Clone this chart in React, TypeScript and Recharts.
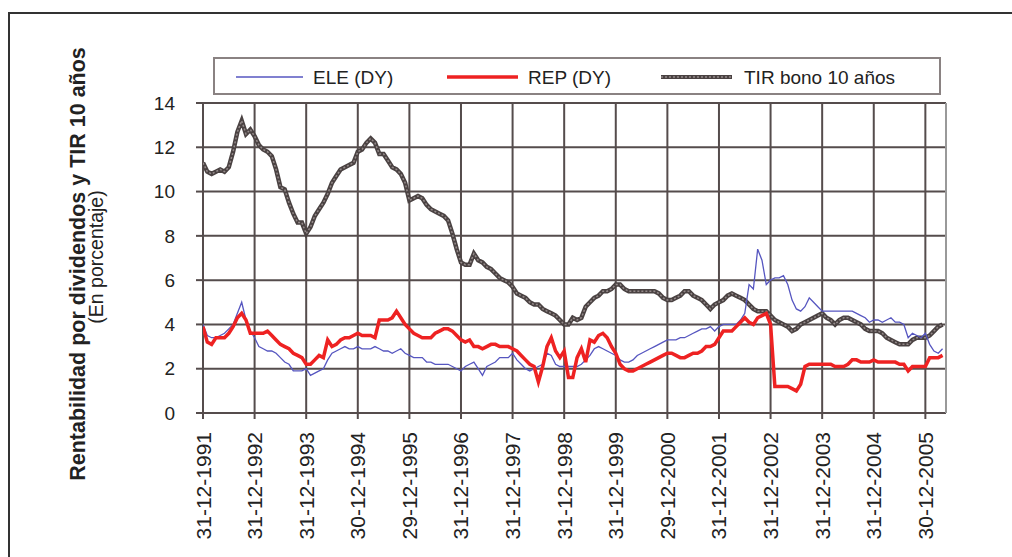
import { LineChart, Line, XAxis, YAxis, CartesianGrid, ReferenceLine } from 'recharts';

// fechas de corte (una por año, eje X)
const tickLabels = [
  '31-12-1991', '31-12-1992', '31-12-1993', '30-12-1994', '29-12-1995',
  '31-12-1996', '31-12-1997', '31-12-1998', '31-12-1999', '29-12-2000',
  '31-12-2001', '31-12-2002', '31-12-2003', '31-12-2004', '30-12-2005',
];
const xTicks = tickLabels.map((_, i) => i);
const yTicks = [0, 2, 4, 6, 8, 10, 12, 14];

// valores mensuales desde dic-1991 (filas = años)
const ele = [
  4.0, 3.5, 3.4, 3.4, 3.5, 3.6, 3.8, 4.0, 4.5, 5.0, 4.2, 3.7,
  3.4, 3.0, 2.9, 2.8, 2.8, 2.7, 2.5, 2.3, 2.2, 1.9, 1.9, 1.9,
  2.0, 1.7, 1.8, 1.9, 2.0, 2.4, 2.7, 2.8, 2.9, 3.0, 2.9, 2.9,
  3.0, 2.9, 2.9, 2.9, 3.0, 2.9, 2.8, 2.8, 2.7, 2.8, 2.9, 2.7,
  2.6, 2.5, 2.5, 2.5, 2.3, 2.3, 2.2, 2.2, 2.2, 2.2, 2.1, 2.0,
  1.9, 2.1, 2.2, 2.3, 2.0, 1.7, 2.1, 2.2, 2.3, 2.5, 2.5, 2.5,
  2.7, 2.4, 2.2, 2.0, 1.9, 2.0, 2.1, 2.2, 2.7, 2.6, 2.2, 2.1,
  2.1, 2.1, 2.1, 2.1, 2.2, 2.4, 2.6, 2.9, 3.0, 2.9, 2.8, 2.7,
  2.6, 2.4, 2.3, 2.3, 2.4, 2.6, 2.7, 2.8, 2.9, 3.0, 3.1, 3.2,
  3.3, 3.3, 3.3, 3.4, 3.4, 3.5, 3.6, 3.7, 3.8, 3.8, 3.9, 3.7,
  3.9, 4.0, 4.0, 4.0, 4.0, 4.2, 4.5, 5.8, 5.6, 7.4, 6.9, 5.8,
  6.0, 6.1, 6.1, 6.2, 5.8, 5.1, 4.7, 4.6, 4.8, 5.2, 5.0, 4.8,
  4.6, 4.6, 4.6, 4.6, 4.6, 4.6, 4.6, 4.6, 4.5, 4.4, 4.3, 4.1,
  4.2, 4.2, 4.1, 4.2, 4.3, 4.1, 4.1, 4.0, 3.4, 3.6, 3.5, 3.4,
  3.6, 3.1, 2.8, 2.7, 2.9,
];

const rep = [
  3.9, 3.2, 3.1, 3.4, 3.4, 3.4, 3.6, 3.9, 4.3, 4.5, 4.2, 3.6,
  3.6, 3.6, 3.6, 3.7, 3.5, 3.3, 3.1, 3.0, 2.9, 2.7, 2.6, 2.5,
  2.2, 2.2, 2.4, 2.6, 2.5, 3.3, 3.0, 3.1, 3.3, 3.4, 3.4, 3.5,
  3.6, 3.5, 3.5, 3.5, 3.4, 4.2, 4.2, 4.2, 4.3, 4.6, 4.3, 4.0,
  3.8, 3.6, 3.5, 3.4, 3.4, 3.4, 3.6, 3.7, 3.8, 3.8, 3.7, 3.5,
  3.3, 3.2, 3.3, 3.0, 3.0, 2.9, 3.0, 3.1, 3.1, 3.0, 3.0, 3.0,
  2.9, 2.8, 2.6, 2.4, 2.2, 2.1, 1.4, 2.1, 3.0, 3.4, 2.8, 2.5,
  2.8, 1.6, 1.6, 2.5, 2.9, 2.3, 3.3, 3.2, 3.5, 3.6, 3.4, 3.0,
  2.7, 2.2, 2.0, 1.9, 1.9, 2.0, 2.1, 2.2, 2.3, 2.4, 2.5, 2.6,
  2.7, 2.7, 2.6, 2.5, 2.5, 2.6, 2.7, 2.7, 2.8, 3.0, 3.0, 3.1,
  3.4, 3.7, 3.7, 3.7, 3.9, 4.1, 4.3, 4.1, 4.0, 4.3, 4.4, 4.5,
  4.0, 1.2, 1.2, 1.2, 1.2, 1.1, 1.0, 1.3, 2.1, 2.2, 2.2, 2.2,
  2.2, 2.2, 2.2, 2.1, 2.1, 2.1, 2.2, 2.4, 2.4, 2.3, 2.3, 2.3,
  2.4, 2.3, 2.3, 2.3, 2.3, 2.3, 2.2, 2.2, 1.9, 2.1, 2.1, 2.1,
  2.1, 2.5, 2.5, 2.5, 2.6,
];

const tir = [
  11.3, 10.9, 10.8, 10.9, 11.0, 10.9, 11.1, 11.8, 12.7, 13.2, 12.6, 12.8,
  12.5, 12.1, 11.9, 11.8, 11.6, 11.0, 10.2, 10.1, 9.5, 9.0, 8.6, 8.6,
  8.1, 8.4, 8.9, 9.2, 9.5, 9.9, 10.4, 10.7, 11.0, 11.1, 11.2, 11.3,
  11.8, 11.9, 12.2, 12.4, 12.2, 11.7, 11.7, 11.4, 11.1, 11.0, 10.8, 10.4,
  9.6, 9.7, 9.8, 9.7, 9.4, 9.2, 9.1, 9.0, 8.9, 8.7, 8.1, 7.4,
  6.8, 6.7, 6.7, 7.2, 6.9, 6.8, 6.6, 6.5, 6.3, 6.1, 6.0, 5.9,
  5.7, 5.4, 5.3, 5.2, 5.0, 4.9, 4.9, 4.7, 4.6, 4.5, 4.4, 4.2,
  4.0, 4.0, 4.3, 4.2, 4.3, 4.8, 5.0, 5.2, 5.3, 5.5, 5.5, 5.6,
  5.8, 5.8, 5.6, 5.5, 5.5, 5.5, 5.5, 5.5, 5.5, 5.5, 5.4, 5.2,
  5.1, 5.1, 5.2, 5.3, 5.5, 5.5, 5.3, 5.2, 5.1, 4.9, 4.7, 4.9,
  5.0, 5.1, 5.3, 5.4, 5.3, 5.2, 5.1, 4.9, 4.7, 4.6, 4.6, 4.6,
  4.4, 4.2, 4.1, 4.0, 3.9, 3.7, 3.8, 4.0, 4.1, 4.2, 4.3, 4.4,
  4.5, 4.3, 4.2, 4.0, 4.2, 4.3, 4.3, 4.2, 4.1, 4.0, 3.8, 3.7,
  3.7, 3.7, 3.6, 3.4, 3.3, 3.2, 3.1, 3.1, 3.1, 3.3, 3.4, 3.4,
  3.4, 3.5, 3.7, 3.9, 4.0,
];

const data = tir.map((v, i) => ({ t: i / 12, ele: ele[i], rep: rep[i], tir: v }));

const FONT = '"Liberation Sans", Arial, sans-serif';
const GRID = '#554c4c';
const BLUE = '#5656c0';
const RED = '#ee2222';
const GRAY = '#4a4242';
const GRAY_LIGHT = '#948a8a';

const DateTick = ({ x, y, payload }: any) => (
  <g transform={`translate(${x},${y})`}>
    <text
      transform="rotate(-90)"
      textAnchor="end"
      dy={7.5}
      fontSize={21}
      fontFamily={FONT}
      fill="#222"
    >
      {tickLabels[payload.value]}
    </text>
  </g>
);

const LegendBox = () => (
  <div
    style={{
      position: 'absolute',
      left: 213,
      top: 57,
      width: 728,
      height: 38,
      border: '2px solid #8a8282',
      boxSizing: 'border-box',
      background: '#fff',
    }}
  >
    <svg width={724} height={34} style={{ display: 'block' }}>
      <g fontFamily={FONT} fontSize={19} fill="#222">
        <line x1={21} x2={88} y1={18} y2={18} stroke={BLUE} strokeWidth={1.5} />
        <text x={98} y={25}>ELE (DY)</text>
        <line x1={232} x2={303} y1={18} y2={18} stroke={RED} strokeWidth={3.5} />
        <text x={313} y={25}>REP (DY)</text>
        <line x1={446} x2={517} y1={18} y2={18} stroke={GRAY} strokeWidth={4} />
        <line x1={446} x2={517} y1={18} y2={18} stroke={GRAY_LIGHT} strokeWidth={1.5} strokeDasharray="2 2" />
        <text x={529} y={25}>TIR bono 10 años</text>
      </g>
    </svg>
  </div>
);

export default function App() {
  return (
    <div
      style={{
        position: 'absolute',
        left: 0,
        top: 0,
        width: 1012,
        height: 557,
        overflow: 'hidden',
        background: '#fff',
      }}
    >
      <div
        style={{
          position: 'absolute',
          left: 8,
          top: 12,
          width: 1100,
          height: 700,
          border: '2px solid #333',
          boxSizing: 'border-box',
        }}
      />
      <svg width={200} height={557} style={{ position: 'absolute', left: 0, top: 0 }}>
        <text
          transform="translate(77,264) rotate(-90)"
          textAnchor="middle"
          dy={8}
          fontSize={21.5}
          fontWeight="bold"
          fontFamily={FONT}
          fill="#222"
        >
          Rentabilidad por dividendos y TIR 10 años
        </text>
        <text
          transform="translate(96,257) rotate(-90)"
          textAnchor="middle"
          dy={7}
          fontSize={19.5}
          fontFamily={FONT}
          fill="#222"
        >
          (En porcentaje)
        </text>
      </svg>
      <div style={{ position: 'absolute', left: 0, top: 0 }}>
        <LineChart
          width={1012}
          height={557}
          data={data}
          margin={{ top: 103, right: 66, bottom: 14, left: 143 }}
        >
          <CartesianGrid stroke={GRID} strokeWidth={2} />
          <XAxis
            dataKey="t"
            type="number"
            domain={[0, 14.4]}
            ticks={xTicks}
            allowDataOverflow
            height={130}
            axisLine={false}
            tickLine={{ stroke: GRID, strokeWidth: 2 }}
            tickSize={6}
            tickMargin={13}
            tick={<DateTick />}
            interval={0}
          />
          <YAxis
            type="number"
            domain={[0, 14]}
            ticks={yTicks}
            width={60}
            axisLine={false}
            tickLine={{ stroke: GRID, strokeWidth: 2 }}
            tickSize={7}
            tickMargin={21}
            tick={{ fontSize: 19, fontFamily: FONT, fill: '#222' }}
            interval={0}
          />
          <ReferenceLine x={14.4} stroke="#999" strokeWidth={2} />
          <Line dataKey="tir" stroke={GRAY} strokeWidth={4.5} dot={false} isAnimationActive={false} />
          <Line dataKey="tir" stroke={GRAY_LIGHT} strokeWidth={1.5} strokeDasharray="2 2" dot={false} isAnimationActive={false} legendType="none" />
          <Line dataKey="ele" stroke={BLUE} strokeWidth={1.3} dot={false} isAnimationActive={false} />
          <Line dataKey="rep" stroke={RED} strokeWidth={3.5} dot={false} isAnimationActive={false} />
        </LineChart>
      </div>
      <LegendBox />
    </div>
  );
}
